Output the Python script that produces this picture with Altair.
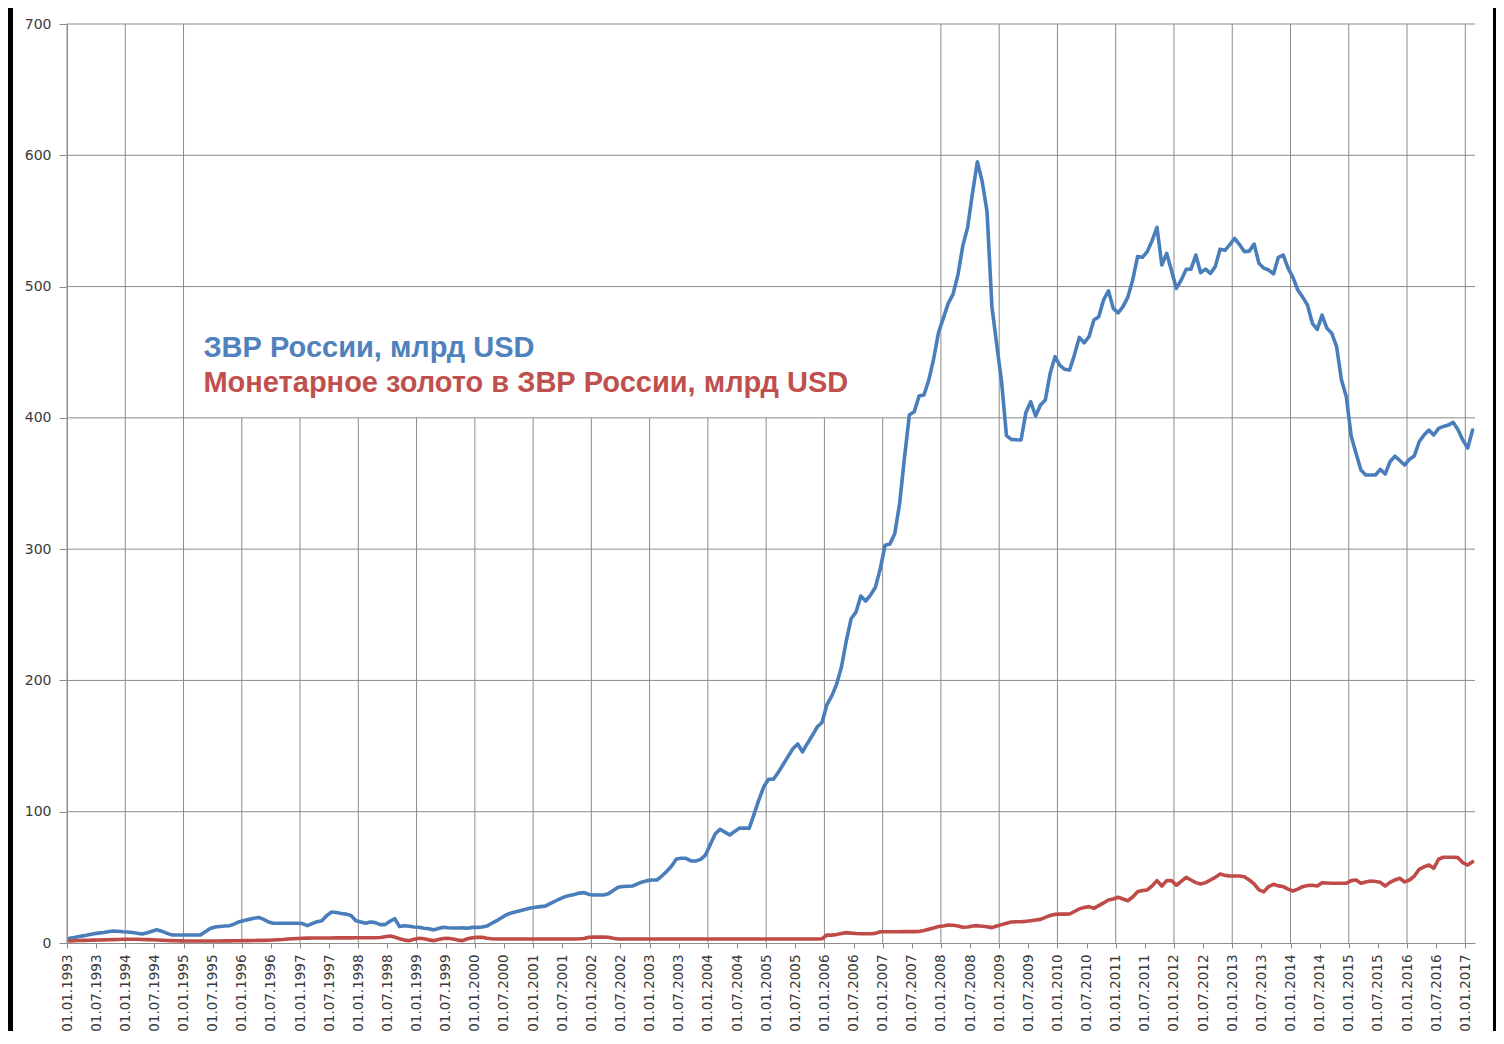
import altair as alt
import pandas as pd

# ---- data: monthly values, 01.01.1993 .. 01.02.2017 ----
start_year = 1993

reserves = [
    # 1993
    3.6, 4.2, 5.0, 5.6, 6.3, 7.0, 7.5, 8.0, 8.6, 9.1, 8.9, 8.6,
    # 1994
    8.4, 8.0, 7.4, 6.9, 7.8, 9.0, 10.1, 9.0, 7.5, 6.2, 6.1, 6.1,
    # 1995
    6.1, 6.1, 6.1, 6.2, 8.5, 11.0, 12.2, 12.6, 12.9, 13.2, 14.5, 16.2,
    # 1996
    17.2, 18.0, 18.8, 19.5, 18.0, 16.0, 15.0, 15.0, 15.0, 15.0, 15.0, 15.0,
    # 1997
    14.8, 13.2, 14.8, 16.2, 17.0, 21.0, 23.6, 23.2, 22.5, 22.0, 21.0, 17.0,
    # 1998
    16.0, 15.0, 16.0, 15.5, 14.0, 14.0, 16.5, 18.5, 12.5, 13.2, 12.8, 12.2,
    # 1999
    12.0, 11.3, 10.8, 10.0, 11.0, 12.0, 11.6, 11.4, 11.4, 11.5, 11.2, 11.9,
    # 2000
    11.9, 12.2, 12.9, 15.0, 17.0, 19.3, 21.5, 22.8, 23.8, 24.7, 25.7, 26.6,
    # 2001
    27.2, 27.7, 28.1, 30.0, 31.8, 33.6, 35.2, 36.2, 37.0, 38.0, 38.4, 37.0,
    # 2002
    36.6, 36.6, 36.6, 37.5, 40.0, 42.5, 43.0, 43.2, 43.4, 45.0, 46.5, 47.5,
    # 2003
    48.0, 48.0, 51.0, 54.5, 58.5, 64.0, 64.5, 64.5, 62.5, 62.5, 63.7, 67.0,
    # 2004
    75.0, 83.0, 86.6, 84.5, 82.3, 85.0, 87.5, 87.6, 87.3, 98.0, 109.0, 119.0,
    # 2005
    124.7, 124.7, 130.0, 136.0, 142.0, 148.0, 151.6, 145.5, 152.0, 158.0, 164.5, 168.0,
    # 2006
    181.3, 188.0, 197.0, 210.0, 230.0, 247.0, 252.0, 264.3, 260.5, 265.0, 271.0, 285.0,
    # 2007
    303.0, 304.0, 312.0, 335.0, 370.0, 402.2, 404.7, 416.6, 417.4, 428.8, 445.0, 465.0,
    # 2008
    476.0, 487.2, 494.3, 508.8, 530.9, 545.1, 571.0, 595.1, 580.0, 557.0, 484.7, 455.7,
    # 2009
    427.1, 386.5, 383.6, 383.3, 383.1, 404.0, 412.3, 401.4, 409.8, 413.6, 433.9, 446.6,
    # 2010
    440.0, 437.0, 436.4, 448.0, 461.3, 457.2, 461.8, 474.5, 477.0, 489.8, 496.8, 483.4,
    # 2011
    480.0, 484.7, 492.0, 505.0, 522.8, 522.3, 526.6, 535.0, 545.1, 516.4, 525.3, 512.0,
    # 2012
    498.6, 505.0, 513.1, 513.3, 524.0, 510.6, 513.3, 510.0, 515.2, 528.4, 527.6, 532.0,
    # 2013
    536.7, 532.0, 526.6, 527.0, 532.4, 517.7, 514.0, 512.6, 509.6, 522.3, 524.0, 514.0,
    # 2014
    507.0, 497.4, 492.0, 486.0, 472.0, 467.4, 478.3, 468.2, 464.4, 454.2, 428.8, 416.1,
    # 2015
    386.0, 373.0, 360.3, 356.5, 356.5, 356.5, 360.8, 357.2, 366.6, 370.9, 367.5, 364.1,
    # 2016
    368.4, 371.0, 381.8, 387.0, 390.7, 386.9, 392.0, 393.5, 394.5, 396.6, 391.0, 383.0,
    # 2017
    377.0, 390.7,
]

gold = [
    # 1993
    1.5, 1.7, 1.9, 2.0, 2.1, 2.2, 2.3, 2.4, 2.5, 2.6, 2.7, 2.8,
    # 1994
    2.9, 2.9, 2.8, 2.7, 2.6, 2.5, 2.3, 2.1, 1.9, 1.8, 1.7, 1.6,
    # 1995
    1.5, 1.5, 1.5, 1.5, 1.5, 1.5, 1.5, 1.5, 1.6, 1.6, 1.7, 1.7,
    # 1996
    1.8, 1.8, 1.9, 2.0, 2.0, 2.1, 2.3, 2.5, 2.7, 3.0, 3.2, 3.4,
    # 1997
    3.6, 3.7, 3.8, 3.8, 3.8, 3.8, 3.8, 3.9, 3.9, 3.9, 3.9, 4.0,
    # 1998
    4.0, 4.0, 4.0, 4.0, 4.2, 4.8, 5.3, 4.5, 3.2, 2.2, 1.8, 2.8,
    # 1999
    3.6, 3.2, 2.4, 1.8, 2.6, 3.4, 3.6, 3.0, 2.2, 1.8, 3.2, 4.0,
    # 2000
    4.3, 4.3, 3.6, 3.2, 3.0, 3.0, 3.0, 3.0, 3.0, 3.0, 3.0, 3.0,
    # 2001
    3.0, 3.0, 3.0, 3.0, 3.0, 3.0, 3.0, 3.0, 3.1, 3.2, 3.4, 4.4,
    # 2002
    4.5, 4.5, 4.5, 4.4, 3.6, 3.1, 3.0, 3.0, 3.0, 3.0, 3.0, 3.0,
    # 2003
    3.0, 3.0, 3.0, 3.0, 3.0, 3.0, 3.0, 3.0, 3.0, 3.0, 3.0, 3.0,
    # 2004
    3.0, 3.0, 3.0, 3.0, 3.0, 3.0, 3.0, 3.0, 3.0, 3.0, 3.0, 3.0,
    # 2005
    3.0, 3.0, 3.0, 3.0, 3.0, 3.0, 3.0, 3.0, 3.0, 3.0, 3.1, 3.2,
    # 2006
    6.1, 6.0, 6.5, 7.2, 7.9, 7.5, 7.2, 7.1, 7.1, 7.1, 7.3, 8.6,
    # 2007
    8.6, 8.6, 8.6, 8.6, 8.7, 8.7, 8.7, 8.8, 9.5, 10.5, 11.5, 12.5,
    # 2008
    13.0, 13.7, 13.5, 13.0, 12.0, 12.2, 13.0, 13.2, 12.8, 12.4, 11.7, 13.0,
    # 2009
    14.0, 15.0, 16.0, 16.2, 16.2, 16.5, 17.0, 17.5, 18.0, 19.5, 21.0, 21.8,
    # 2010
    22.0, 22.0, 22.1, 24.0, 26.0, 27.0, 27.7, 26.4, 28.5, 30.5, 32.7, 33.5,
    # 2011
    34.8, 33.5, 32.2, 35.0, 39.0, 40.0, 40.4, 43.5, 47.5, 43.4, 47.5, 47.5,
    # 2012
    44.0, 47.0, 50.0, 48.0, 46.0, 44.9, 46.0, 48.0, 50.0, 52.6, 51.5, 51.0,
    # 2013
    51.0, 51.0, 50.5, 48.0, 45.0, 40.5, 39.0, 43.0, 44.7, 43.5, 43.0, 41.0,
    # 2014
    39.6, 41.0, 42.9, 43.8, 44.0, 43.4, 45.9, 45.7, 45.5, 45.5, 45.5, 45.5,
    # 2015
    47.5, 48.0, 45.5, 46.5, 47.2, 46.8, 46.2, 43.4, 46.2, 48.0, 49.3, 46.5,
    # 2016
    48.0, 51.0, 56.1, 58.0, 59.4, 56.9, 63.8, 65.3, 65.3, 65.3, 65.0, 61.2,
    # 2017
    59.4, 61.9,
]

series_names = ["ЗВР России, млрд USD", "Монетарное золото в ЗВР России, млрд USD"]
y_ticks = [0, 100, 200, 300, 400, 500, 600, 700]
grid_years = list(range(1993, 2018))
short_grid_years = list(range(1996, 2008))   # grid lines hidden behind the caption box

# ---- layout constants ----
W, H = 1408, 919
N_SLOTS = 290
GRID = "#8c8c8c"
LABEL = "#3a3a3a"
BLUE_LINE = "#4a7ebb"
RED_LINE = "#be4b48"
BLUE_TEXT = "#4f81bd"
RED_TEXT = "#c0504d"

months = list(range(len(reserves)))
df_res = pd.DataFrame({"x": [m + 0.5 for m in months], "y": reserves})
df_gold = pd.DataFrame({"x": [m + 0.5 for m in months], "y": gold})
df_h = pd.DataFrame({"y": y_ticks[1:]})
df_v = pd.DataFrame({
    "x": [(yr - start_year) * 12 for yr in grid_years],
    "y": [0] * len(grid_years),
    "y2": [400 if yr in short_grid_years else 700 for yr in grid_years],
})
df_txt1 = pd.DataFrame({"x": [28.1], "y": [446.0], "t": [series_names[0]]})
df_txt2 = pd.DataFrame({"x": [28.1], "y": [420.0], "t": [series_names[1]]})
df_bg = pd.DataFrame({"k": [0]})

label_expr = ("'01.' + (datum.value % 12 == 0 ? '01' : '07') + '.' + "
              f"({start_year} + floor(datum.value / 12))")

xscale = alt.Scale(domain=[0, N_SLOTS], nice=False, zero=False)
yscale = alt.Scale(domain=[0, 700], nice=False)

x_axis = alt.Axis(
    values=list(range(0, N_SLOTS, 6)), labelExpr=label_expr, labelAngle=-90,
    grid=False, domainColor=GRID, tickColor=GRID, tickSize=5, labelPadding=6,
    labelFont="DejaVu Sans", labelFontSize=13.5, labelColor=LABEL,
    labelOverlap=False, labelBound=False, labelFlush=False, title=None, zindex=1,
)
y_axis = alt.Axis(
    values=y_ticks, grid=False, domainColor=GRID, tickColor=GRID, tickSize=8,
    labelPadding=8, labelFont="DejaVu Sans", labelFontSize=14, labelColor=LABEL,
    title=None, zindex=1,
)


def X(field="x"):
    return alt.X(f"{field}:Q", scale=xscale, axis=x_axis)


def Y(field="y"):
    return alt.Y(f"{field}:Q", scale=yscale, axis=y_axis)


bg = alt.Chart(df_bg).mark_rect(color="white").encode(
    x=alt.value(-54), x2=alt.value(W + 18), y=alt.value(-16), y2=alt.value(H + 88)
)

hgrid = alt.Chart(df_h).mark_rule(color=GRID, strokeWidth=1).encode(
    y=Y(), x=alt.value(0), x2=alt.value(W)
)

vgrid = alt.Chart(df_v).mark_rule(color=GRID, strokeWidth=1).encode(
    x=X(), y=Y(), y2="y2:Q"
)

line_res = alt.Chart(df_res).mark_line(
    color=BLUE_LINE, strokeWidth=3.6, strokeJoin="round", strokeCap="round"
).encode(x=X(), y=Y())

line_gold = alt.Chart(df_gold).mark_line(
    color=RED_LINE, strokeWidth=3.6, strokeJoin="round", strokeCap="round"
).encode(x=X(), y=Y())

txt1 = alt.Chart(df_txt1).mark_text(
    align="left", baseline="alphabetic", font="Liberation Sans", fontWeight="bold",
    fontSize=29, color=BLUE_TEXT
).encode(x=X(), y=Y(), text="t:N")

txt2 = alt.Chart(df_txt2).mark_text(
    align="left", baseline="alphabetic", font="Liberation Sans", fontWeight="bold",
    fontSize=29, color=RED_TEXT
).encode(x=X(), y=Y(), text="t:N")

chart = alt.layer(bg, hgrid, vgrid, line_res, line_gold, txt1, txt2).properties(
    width=W, height=H,
    autosize=alt.AutoSizeParams(type="none"),
    padding={"left": 59, "top": 16, "right": 21, "bottom": 88},
    background="black",
).configure_view(stroke=None)

chart.save("out.html", embed_options={"renderer": "svg", "actions": False})
